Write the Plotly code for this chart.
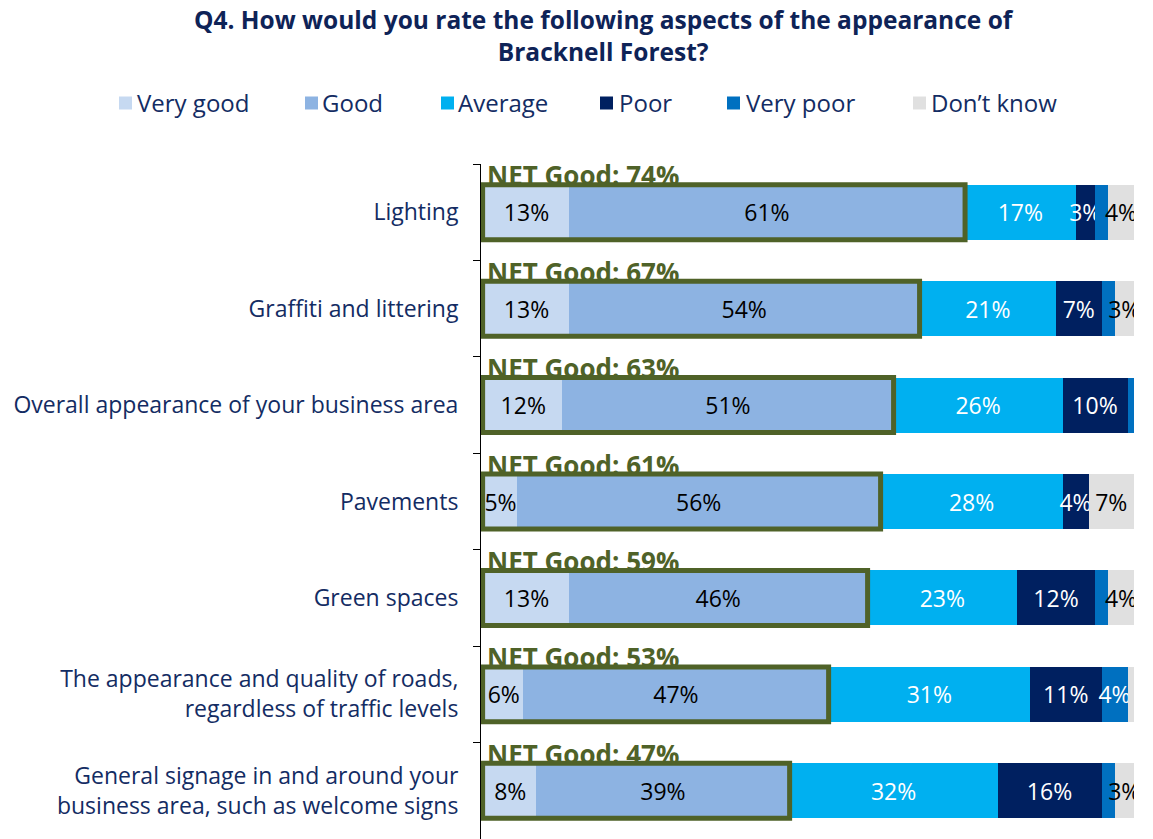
import plotly.graph_objects as go

# Survey aspects (top to bottom)
categories = [
    "Lighting",
    "Graffiti and littering",
    "Overall appearance of your business area",
    "Pavements",
    "Green spaces",
    "The appearance and quality of roads,<br>regardless of traffic levels",
    "General signage in and around your<br>business area, such as welcome signs",
]

# Response shares (%) per aspect
very_good = [13, 13, 12, 5, 13, 6, 8]
good = [61, 54, 51, 56, 46, 47, 39]
average = [17, 21, 26, 28, 23, 31, 32]
poor = [3, 7, 10, 4, 12, 11, 16]
very_poor = [2, 2, 1, 0, 2, 4, 2]
dont_know = [4, 3, 0, 7, 4, 1, 3]
net_good = [74, 67, 63, 61, 59, 53, 47]

series_names = ["Very good", "Good", "Average", "Poor", "Very poor", "Don\u2019t know"]
series_values = [very_good, good, average, poor, very_poor, dont_know]
series_colors = ["#C6D9F1", "#8DB3E2", "#00B0F0", "#002060", "#0070C0", "#E0E0E0"]
label_colors = ["#000000", "#000000", "#FFFFFF", "#FFFFFF", "#FFFFFF", "#000000"]

FONT = "Open Sans"
NAVY = "#132C63"
OLIVE = "#4F6228"

W, H = 1153, 839
# plot area in pixels
PL, PR, PT, PB = 481, 19, 164, 0
PW, PH = W - PL - PR, H - PT - PB


def px_x(px):
    return (px - PL) / PW


def px_y(py):
    return (H - PB - py) / PH


fig = go.Figure()

for name, vals, color, tcolor in zip(series_names, series_values, series_colors, label_colors):
    fig.add_trace(go.Bar(
        y=categories,
        x=vals,
        name=name,
        orientation="h",
        marker=dict(color=color, line=dict(width=0)),
        text=[f"{v}%" if v >= 3 else "" for v in vals],
        textposition="inside",
        insidetextanchor="middle",
        textangle=0,
        constraintext="none",
        textfont=dict(family=FONT, size=23, color=tcolor),
        showlegend=False,
        hoverinfo="x+y+name",
    ))

# NET Good outline boxes and labels
half = 0.285
for i, (cat, ng) in enumerate(zip(categories, net_good)):
    fig.add_shape(
        type="rect", xref="x", yref="y",
        x0=-0.25, x1=ng, y0=i - half, y1=i + half,
        line=dict(color=OLIVE, width=5),
        fillcolor="rgba(0,0,0,0)",
        layer="above",
    )
    fig.add_annotation(
        x=0, y=cat, xref="x", yref="y",
        xanchor="left", yanchor="middle",
        xshift=1, yshift=37,
        text=f"<b>NET Good: {ng}%</b>",
        showarrow=False,
        font=dict(family=FONT, size=26, color=OLIVE),
    )

# Legend row across the top
legend_sq_x = [119, 305, 441, 600, 727, 913]
legend_txt_x = [135, 320, 456, 617, 744, 929]
sq = 13
leg_y = 103
for name, color, sx, tx in zip(series_names, series_colors, legend_sq_x, legend_txt_x):
    fig.add_shape(
        type="rect", xref="paper", yref="paper",
        x0=px_x(sx), x1=px_x(sx + sq),
        y0=px_y(leg_y + sq / 2), y1=px_y(leg_y - sq / 2),
        line=dict(width=0), fillcolor=color,
    )
    fig.add_annotation(
        x=px_x(tx), y=px_y(leg_y), xref="paper", yref="paper",
        xanchor="left", yanchor="middle",
        text=name, showarrow=False,
        font=dict(family=FONT, size=24, color=NAVY),
    )

# Chart title
fig.add_annotation(
    x=px_x(604), y=px_y(35), xref="paper", yref="paper",
    xanchor="center", yanchor="middle",
    text="<b>Q4. How would you rate the following aspects of the appearance of<br>Bracknell Forest?</b>",
    showarrow=False,
    font=dict(family=FONT, size=24.5, color="#0E2357"),
)

fig.update_layout(
    width=W, height=H,
    barmode="stack",
    bargap=0.43,
    plot_bgcolor="white",
    paper_bgcolor="white",
    margin=dict(l=PL, r=PR, t=PT, b=PB),
    xaxis=dict(
        range=[-0.5, 100],
        visible=False,
        showgrid=False,
        zeroline=False,
    ),
    yaxis=dict(
        categoryorder="array",
        categoryarray=categories,
        range=[len(categories) - 0.5, -0.5],
        autorange=False,
        showline=True,
        linecolor="#000000",
        linewidth=1,
        ticks="outside",
        tickson="boundaries",
        ticklen=7,
        tickcolor="#000000",
        ticklabelstandoff=17,
        tickfont=dict(family=FONT, size=23, color=NAVY),
        showgrid=False,
    ),
    font=dict(family=FONT),
)

fig.write_html("out.html")
